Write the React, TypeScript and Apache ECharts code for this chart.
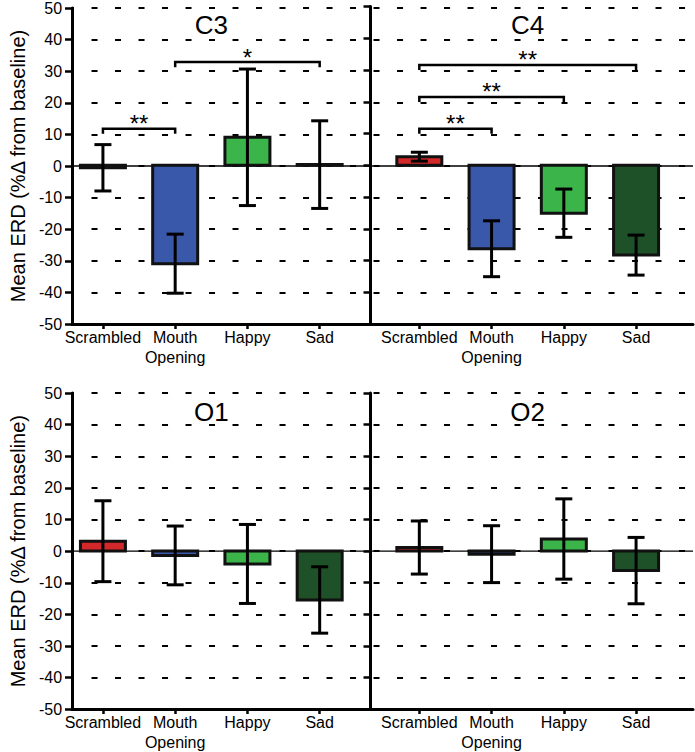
import React, { useEffect, useRef } from "react";
import * as echarts from "echarts";

const categories = ["Scrambled", "Mouth\nOpening", "Happy", "Sad"];
const barColors = ["#d3282a", "#3a58aa", "#3bb44a", "#1e5128"];
const panelNames = ["C3", "C4", "O1", "O2"];
const yTicks = { min: -50, max: 50, interval: 10 };

const c3Mean = [-0.8, -31.0, 8.8, 0.2];
const c3Err = [7.3, 9.3, 21.5, 13.8];
const c4Mean = [2.7, -26.3, -15.1, -28.3];
const c4Err = [1.4, 8.8, 7.6, 6.3];
const o1Mean = [3.1, -1.4, -4.1, -15.5];
const o1Err = [12.8, 9.3, 12.5, 10.5];
const o2Mean = [1.1, -1.0, 3.8, -6.2];
const o2Err = [8.4, 9.0, 12.7, 10.5];

// [startCategory, endCategory, level]
const c3Brackets = [
  [0, 1, 11.5],
  [1, 3, 32.5],
];
const c3BracketLabels = ["**", "*"];
const c4Brackets = [
  [0, 1, 11.5],
  [0, 2, 21.5],
  [0, 3, 31.6],
];
const c4BracketLabels = ["**", "**", "**"];

const FONT = "Liberation Sans, Arial, Helvetica, sans-serif";

const W = 695;
const H = 752;
const frameLeft = 55;
const frameRight = 693;
const rows = [
  { top: 6.5, height: 317.5 },
  { top: 393, height: 316.3 },
];
const barGridLefts = [66.8, 383.2];
const barGridWidth = 289;
const rightAxisX = 370.5;
const barInnerWidth = 45;

export default function App() {
  const ref = useRef<HTMLDivElement>(null);

  useEffect(() => {
    if (!ref.current) return;
    const chart = echarts.init(ref.current, null, { renderer: "svg" });

    const means = [c3Mean, c4Mean, o1Mean, o2Mean];
    const errs = [c3Err, c4Err, o1Err, o2Err];
    const brackets = [c3Brackets, c4Brackets, [], []];
    const bracketLabels = [c3BracketLabels, c4BracketLabels, [], []];

    const grids: any[] = [];
    const xAxes: any[] = [];
    const yAxes: any[] = [];
    const series: any[] = [];
    const graphics: any[] = [];

    rows.forEach((row, r) => {
      // frame grid
      const fIdx = grids.length;
      grids.push({
        left: frameLeft,
        width: frameRight - frameLeft,
        top: row.top,
        height: row.height,
        containLabel: false,
      });
      xAxes.push({
        gridIndex: fIdx,
        type: "value",
        min: 0,
        max: 1,
        axisLine: { show: true, onZero: false, lineStyle: { color: "#000", width: 3 } },
        axisTick: { show: false },
        axisLabel: { show: false },
        splitLine: { show: false },
      });
      yAxes.push({
        gridIndex: fIdx,
        type: "value",
        min: yTicks.min,
        max: yTicks.max,
        interval: yTicks.interval,
        name: "Mean ERD (%\u0394 from baseline)",
        nameLocation: "middle",
        nameGap: 36,
        nameTextStyle: { fontSize: 20, color: "#000", fontFamily: FONT },
        axisLine: { show: true, onZero: false, lineStyle: { color: "#000", width: 3 } },
        axisTick: { show: true, length: 7, lineStyle: { color: "#000", width: 2.5 } },
        axisLabel: { show: true, fontSize: 16, color: "#000", margin: 10, fontFamily: FONT },
        splitLine: {
          show: true,
          lineStyle: { color: "#000", width: 2, type: [6, 17.5], dashOffset: 3.5 },
        },
      });
      series.push({
        type: "custom",
        xAxisIndex: fIdx,
        yAxisIndex: fIdx,
        silent: true,
        z: 1,
        data: [[0]],
        renderItem: (params: any, api: any) => {
          const a = api.coord([0, 0]);
          const b = api.coord([1, 0]);
          return {
            type: "line",
            shape: { x1: a[0], y1: a[1], x2: b[0], y2: b[1] },
            style: { stroke: "#000", lineWidth: 1.3 },
          };
        },
      });

      [0, 1].forEach((c) => {
        const p = r * 2 + c;
        const gIdx = grids.length;
        grids.push({
          left: barGridLefts[c],
          width: barGridWidth,
          top: row.top,
          height: row.height,
          containLabel: false,
        });
        xAxes.push({
          gridIndex: gIdx,
          type: "category",
          data: categories,
          boundaryGap: true,
          axisLine: { show: false, onZero: false },
          axisTick: {
            show: true,
            alignWithLabel: true,
            length: 5,
            lineStyle: { color: "#000", width: 2.5 },
          },
          axisLabel: {
            show: true,
            interval: 0,
            fontSize: 16,
            lineHeight: 20,
            color: "#000",
            margin: 3,
            fontFamily: FONT,
          },
          splitLine: { show: false },
        });
        yAxes.push({
          gridIndex: gIdx,
          type: "value",
          min: yTicks.min,
          max: yTicks.max,
          interval: yTicks.interval,
          show: c === 1,
          offset: c === 1 ? barGridLefts[1] - rightAxisX : 0,
          axisLine: { show: true, onZero: false, lineStyle: { color: "#000", width: 3 } },
          axisTick: { show: true, length: 7, lineStyle: { color: "#000", width: 2.5 } },
          axisLabel: { show: false },
          splitLine: { show: false },
        });

        // bars (outlined rectangles)
        series.push({
          type: "custom",
          name: panelNames[p],
          xAxisIndex: gIdx,
          yAxisIndex: gIdx,
          z: 2,
          data: means[p].map((v, i) => [i, v]),
          renderItem: (params: any, api: any) => {
            const i = api.value(0);
            const base = api.coord([i, 0]);
            const top = api.coord([i, api.value(1)]);
            const y0 = Math.min(base[1], top[1]);
            const h = Math.abs(base[1] - top[1]);
            return {
              type: "rect",
              shape: { x: base[0] - barInnerWidth / 2, y: y0, width: barInnerWidth, height: h },
              style: { fill: barColors[params.dataIndex], stroke: "#111", lineWidth: 3 },
            };
          },
        });

        // error bars
        series.push({
          type: "custom",
          xAxisIndex: gIdx,
          yAxisIndex: gIdx,
          z: 3,
          silent: true,
          data: means[p].map((m, i) => [i, m - errs[p][i], m + errs[p][i]]),
          renderItem: (params: any, api: any) => {
            const lo = api.coord([api.value(0), api.value(1)]);
            const hi = api.coord([api.value(0), api.value(2)]);
            const hw = 8.5;
            const st = { stroke: "#000", lineWidth: 3 };
            return {
              type: "group",
              children: [
                { type: "line", shape: { x1: lo[0], y1: lo[1], x2: hi[0], y2: hi[1] }, style: st },
                { type: "line", shape: { x1: lo[0] - hw, y1: lo[1], x2: lo[0] + hw, y2: lo[1] }, style: st },
                { type: "line", shape: { x1: hi[0] - hw, y1: hi[1], x2: hi[0] + hw, y2: hi[1] }, style: st },
              ],
            };
          },
        });

        if (brackets[p].length) {
          const labels = bracketLabels[p];
          series.push({
            type: "custom",
            xAxisIndex: gIdx,
            yAxisIndex: gIdx,
            z: 3,
            silent: true,
            data: brackets[p],
            renderItem: (params: any, api: any) => {
              const s = api.value(0);
              const e = api.value(1);
              const lvl = api.value(2);
              const a0 = api.coord([s, lvl - 1.6]);
              const a1 = api.coord([s, lvl]);
              const b1 = api.coord([e, lvl]);
              const b0 = api.coord([e, lvl - 1.6]);
              const label = labels[params.dataIndex];
              return {
                type: "group",
                children: [
                  {
                    type: "polyline",
                    shape: { points: [a0, a1, b1, b0] },
                    style: { stroke: "#000", lineWidth: 2.5, fill: "none" },
                  },
                  {
                    type: "text",
                    x: (a1[0] + b1[0]) / 2,
                    y: a1[1] - 5,
                    style: {
                      text: label,
                      fontSize: 24,
                      fontFamily: FONT,
                      fill: "#000",
                      align: "center",
                      verticalAlign: "middle",
                      textAlign: "center",
                      textVerticalAlign: "middle",
                    },
                  },
                ],
              };
            },
          });
        }

        graphics.push({
          type: "text",
          x: barGridLefts[c] + barGridWidth / 2,
          y: row.top + 18.8,
          style: {
            text: panelNames[p],
            fontSize: 26,
            fontFamily: FONT,
            fill: "#000",
            align: "center",
            verticalAlign: "middle",
            textAlign: "center",
            textVerticalAlign: "middle",
          },
        });
      });
    });

    chart.setOption({
      animation: false,
      backgroundColor: "#fff",
      textStyle: { fontFamily: FONT },
      grid: grids,
      xAxis: xAxes,
      yAxis: yAxes,
      series,
      graphic: graphics,
    });

    return () => chart.dispose();
  }, []);

  return (
    <div
      ref={ref}
      style={{ position: "fixed", left: 0, top: 0, width: W, height: H, background: "#fff" }}
    />
  );
}
